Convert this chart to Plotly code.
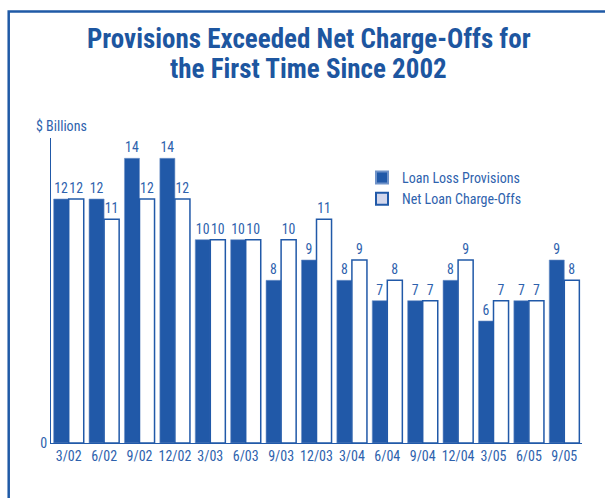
import plotly.graph_objects as go

categories = ["3/02", "6/02", "9/02", "12/02", "3/03", "6/03", "9/03", "12/03",
              "3/04", "6/04", "9/04", "12/04", "3/05", "6/05", "9/05"]
provisions = [12, 12, 14, 14, 10, 10, 8, 9, 8, 7, 7, 8, 6, 7, 9]
charge_offs = [12, 11, 12, 12, 10, 10, 10, 11, 9, 8, 7, 9, 7, 7, 8]
title_lines = ["Provisions Exceeded Net Charge-Offs for", "the First Time Since 2002"]

BLUE = "#2159a8"
TEXT = "#2e62ad"
FONT = "Roboto Condensed, sans-serif"

W, H = 605, 498
L, R, T, B = 51, 23, 138, 55
pw, ph = W - L - R, H - T - B


def px_x(p):
    return (p - L) / pw


def px_y(p):
    return (H - B - p) / ph


fig = go.Figure()
fig.add_trace(go.Bar(
    x=categories, y=provisions, name="Loan Loss Provisions",
    marker=dict(color=BLUE, line=dict(color="#6f92c8", width=0.6)),
    text=provisions, textposition="outside", cliponaxis=False,
    constraintext="none",
    textfont=dict(color=TEXT, size=13.8, family=FONT),
    offsetgroup="p", showlegend=True,
))
fig.add_trace(go.Bar(
    x=categories, y=charge_offs, name="Net Loan Charge-Offs",
    marker=dict(color="white", line=dict(color=BLUE, width=1.5)),
    text=charge_offs, textposition="outside", cliponaxis=False,
    constraintext="none",
    textfont=dict(color=TEXT, size=13.8, family=FONT),
    offsetgroup="c", showlegend=False,
))
# legend-only entry (lavender swatch as in the original)
fig.add_trace(go.Bar(
    x=[categories[0]], y=[None], name="Net Loan Charge-Offs",
    marker=dict(color="#d3d7ec", line=dict(color=BLUE, width=1.5)),
    offsetgroup="c", showlegend=True, hoverinfo="skip",
))

annotations = [dict(
    text="$ Billions", xref="paper", yref="paper",
    x=px_x(34), y=px_y(126), xanchor="left", yanchor="middle",
    showarrow=False, font=dict(size=14, color=TEXT, family=FONT),
)]
for i, (line, yc) in enumerate(zip(title_lines, [38.5, 69])):
    annotations.append(dict(
        text=f"<b>{line}</b>", xref="paper", yref="paper",
        x=px_x(308.5), y=px_y(yc), xanchor="center", yanchor="middle",
        showarrow=False, font=dict(size=27, color="#1d56a0", family=FONT),
    ))

fig.update_layout(
    width=W, height=H,
    margin=dict(l=L, r=R, t=T, b=B),
    paper_bgcolor="white", plot_bgcolor="white",
    barmode="group", bargap=0.15, bargroupgap=0,
    font=dict(family=FONT, color=TEXT),
    xaxis=dict(
        showline=True, linecolor=BLUE, linewidth=1, ticks="",
        tickfont=dict(size=14, color=TEXT, family=FONT),
        showgrid=False, zeroline=False,
    ),
    yaxis=dict(
        range=[0, 15], showline=True, linecolor=BLUE, linewidth=1,
        tickvals=[0], ticktext=["0"], ticks="", showgrid=False, zeroline=False,
        tickfont=dict(size=14, color=TEXT, family=FONT),
    ),
    legend=dict(
        x=px_x(362), y=px_y(162), xanchor="left", yanchor="top",
        bgcolor="rgba(0,0,0,0)", font=dict(size=14, color=TEXT, family=FONT),
        tracegroupgap=2, itemsizing="constant",
    ),
    annotations=annotations,
    shapes=[dict(
        type="rect", xref="paper", yref="paper",
        x0=px_x(8.7), x1=px_x(620), y0=px_y(520), y1=px_y(11.5),
        line=dict(color="#1f5aa6", width=2.5), fillcolor="rgba(0,0,0,0)",
        layer="above",
    )],
)

fig.write_html("out.html", config={"displayModeBar": False},
               post_script="document.body.style.margin='0';")
